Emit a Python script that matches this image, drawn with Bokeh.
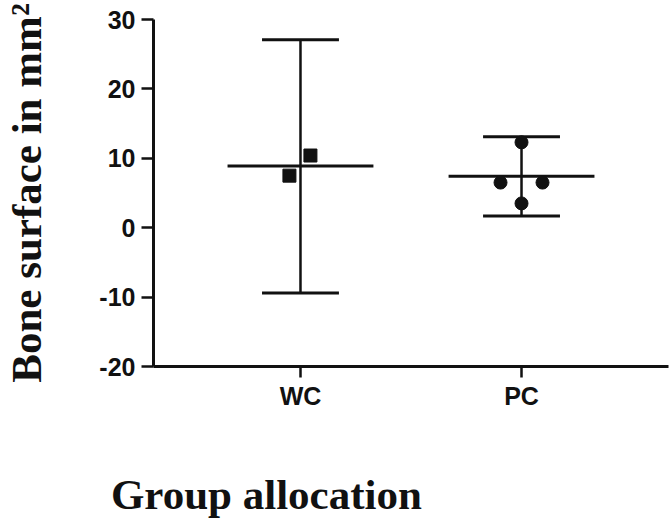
from bokeh.plotting import figure
from bokeh.models import Range1d, FixedTicker
from bokeh.embed import file_html
from bokeh.resources import INLINE

# ---- data ----
groups = ["WC", "PC"]
group_pos = [1, 2]
wc_values = [10.4, 7.5]
pc_values = [12.3, 6.5, 6.5, 3.5]
means = [8.9, 7.4]
ci_upper = [27.1, 13.1]
ci_lower = [-9.4, 1.7]
y_ticks = [-20, -10, 0, 10, 20, 30]
y_tick_labels = ["-20", "-10", "0", "10", "20", "30"]

# ---- layout constants (positions only) ----
wc_offsets = [0.045, -0.05]
pc_offsets = [0.0, -0.095, 0.095, 0.0]
cap_half = 0.174
mean_half = 0.33

p = figure(width=670, height=521,
           x_range=Range1d(0.335, 2.665), y_range=Range1d(-20, 30),
           output_backend="svg", toolbar_location=None,
           min_border_left=153, min_border_right=2,
           min_border_top=19, min_border_bottom=155)

ink = "#111111"

# vertical error bars
p.segment(x0=group_pos, y0=ci_lower, x1=group_pos, y1=ci_upper,
          line_width=2.5, line_color=ink)
# caps
p.segment(x0=[g - cap_half for g in group_pos], y0=ci_upper,
          x1=[g + cap_half for g in group_pos], y1=ci_upper,
          line_width=3, line_color=ink)
p.segment(x0=[g - cap_half for g in group_pos], y0=ci_lower,
          x1=[g + cap_half for g in group_pos], y1=ci_lower,
          line_width=3, line_color=ink)
# mean lines
p.segment(x0=[g - mean_half for g in group_pos], y0=means,
          x1=[g + mean_half for g in group_pos], y1=means,
          line_width=3, line_color=ink)

# individual points
p.scatter(x=[group_pos[0] + o for o in wc_offsets], y=wc_values,
          marker="square", size=13, fill_color=ink, line_color=ink)
p.scatter(x=[group_pos[1] + o for o in pc_offsets], y=pc_values,
          marker="circle", size=13, fill_color=ink, line_color=ink)

# axes styling
p.xaxis.ticker = FixedTicker(ticks=group_pos)
p.xaxis.major_label_overrides = {g: n for g, n in zip(group_pos, groups)}
p.yaxis.ticker = FixedTicker(ticks=y_ticks)
p.yaxis.major_label_overrides = {t: s for t, s in zip(y_ticks, y_tick_labels)}
p.axis.axis_line_width = 3
p.axis.axis_line_color = ink
p.axis.major_tick_line_width = 2.5
p.axis.major_tick_line_color = ink
p.axis.major_tick_in = 0
p.yaxis.major_tick_out = 12
p.xaxis.major_tick_out = 11
p.axis.minor_tick_line_color = None
p.axis.major_label_text_font = "Liberation Sans"
p.axis.major_label_text_font_style = "bold"
p.axis.major_label_text_font_size = "25px"
p.axis.major_label_text_color = ink
p.yaxis.major_label_standoff = 6
p.xaxis.major_label_standoff = 4

p.yaxis.axis_label = "Bone surface in mm²"
p.xaxis.axis_label = "\u00a0" * 21 + "Group allocation"
p.axis.axis_label_text_font = "Liberation Serif"
p.axis.axis_label_text_font_style = "bold"
p.axis.axis_label_text_font_size = "43px"
p.axis.axis_label_text_color = ink
p.yaxis.axis_label_standoff = 46
p.xaxis.axis_label_standoff = 58
try:
    p.xaxis.axis_label_align = "start"
except Exception:
    pass

p.grid.grid_line_color = None
p.outline_line_color = None
p.background_fill_color = "white"
p.border_fill_color = "white"

open("out.html", "w").write(file_html(p, INLINE))
